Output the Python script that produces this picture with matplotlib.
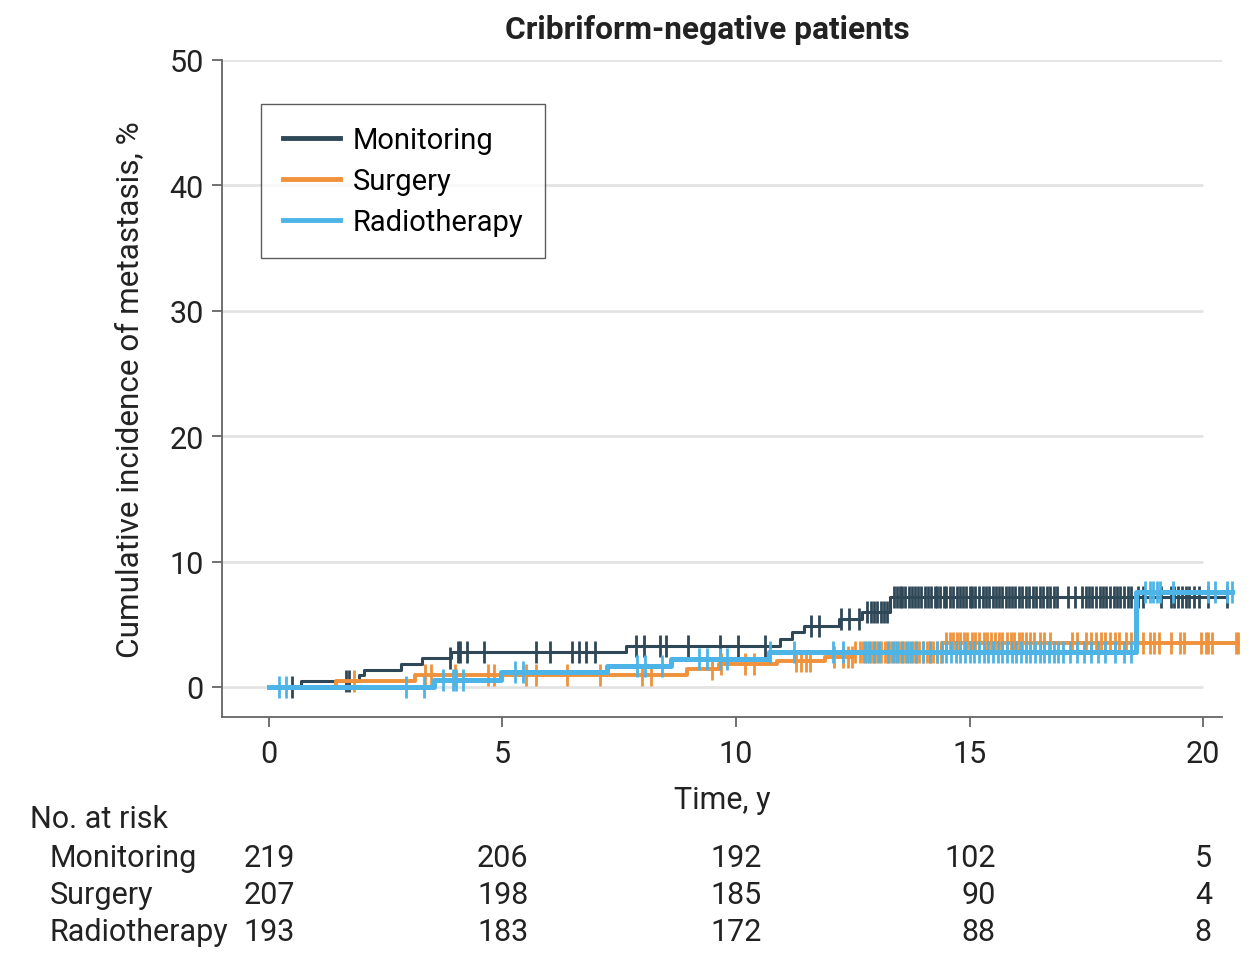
import numpy as np
import matplotlib
matplotlib.use('Agg')
import matplotlib.pyplot as plt
import matplotlib.transforms as mtransforms

plt.rcParams['font.family'] = ['Roboto', 'DejaVu Sans']

groups = ['Monitoring', 'Surgery', 'Radiotherapy']
colors = {'Monitoring': '#2f4858', 'Surgery': '#f0923b', 'Radiotherapy': '#4db4e8'}

# event times (years) and cumulative incidence after each event (%)
mon_times = [0.68, 1.93, 2.04, 2.82, 3.29, 3.89, 7.64, 10.95, 11.2, 11.45, 12.2, 12.7, 13.3]
mon_cum = [0.46, 0.92, 1.38, 1.84, 2.30, 2.76, 3.24, 3.83, 4.36, 4.84, 5.42, 5.95, 7.2]
sur_times = [1.43, 3.14, 8.96, 9.63, 10.88, 11.91, 12.5, 14.41]
sur_cum = [0.48, 0.96, 1.44, 1.83, 2.1, 2.4, 2.75, 3.5]
rad_times = [3.54, 4.96, 7.24, 8.6, 10.7, 18.57]
rad_cum = [0.55, 1.15, 1.7, 2.25, 2.8, 7.55]

# censoring times (years)
mon_cens = [0.49, 1.65, 1.72, 3.88, 4.04, 4.1, 4.24, 4.6, 5.71, 6.02, 6.5, 6.64, 6.8, 6.98,
            7.85, 8.03, 8.37, 8.51, 8.97, 9.65, 10.04, 10.61, 11.61, 11.77, 12.24, 12.41, 12.63,
            12.8, 12.88, 12.95, 13.02, 13.1, 13.17, 13.23, 13.38, 13.45, 13.5, 13.56, 13.62, 13.7,
            13.76, 13.83, 13.9, 13.96, 14.04, 14.1, 14.18, 14.25, 14.3, 14.37, 14.45, 14.5, 14.58,
            14.65, 14.72, 14.8, 14.86, 14.92, 15.0, 15.06, 15.12, 15.2, 15.28, 15.35, 15.42, 15.5,
            15.56, 15.62, 15.7, 15.78, 15.84, 15.9, 15.98, 16.05, 16.12, 16.2, 16.28, 16.35, 16.42,
            16.5, 16.58, 16.65, 16.72, 16.8, 16.87, 17.1, 17.25, 17.4, 17.48, 17.55, 17.62, 17.7,
            17.78, 17.85, 17.92, 18.0, 18.08, 18.15, 18.22, 18.3, 18.38, 18.45, 18.6, 18.72, 19.1,
            19.3, 19.38, 19.46, 19.55, 19.62, 19.7, 19.8, 19.9, 20.1, 20.5]
sur_cens = [1.83, 3.34, 3.48, 3.98, 4.69, 4.82, 5.5, 5.71, 6.39, 7.09, 7.99, 8.19, 9.49, 9.68,
            10.2, 10.38, 11.29, 11.39, 11.5, 11.59, 12.1, 12.3, 12.4, 12.48, 12.55, 12.65, 12.72,
            12.8, 12.88, 12.95, 13.02, 13.1, 13.18, 13.25, 13.32, 13.4, 13.48, 13.55, 13.62, 13.7,
            13.78, 13.85, 13.92, 14.0, 14.08, 14.15, 14.22, 14.3, 14.38, 14.5, 14.58, 14.65, 14.72,
            14.8, 14.88, 14.95, 15.05, 15.12, 15.2, 15.3, 15.38, 15.45, 15.55, 15.62, 15.7, 15.8,
            15.88, 15.95, 16.05, 16.12, 16.2, 16.3, 16.38, 16.5, 16.6, 16.72, 17.2, 17.3, 17.5,
            17.6, 17.7, 17.8, 17.9, 18.0, 18.1, 18.2, 18.35, 18.45, 18.55, 18.7, 18.85, 18.95,
            19.05, 19.3, 19.5, 19.58, 19.95, 20.05, 20.1, 20.18, 20.7, 20.75]
rad_cens = [0.22, 0.36, 2.93, 3.32, 3.74, 3.95, 4.0, 4.16, 5.28, 5.45, 7.89, 8.06, 8.42, 9.2,
            9.37, 9.65, 9.81, 10.72, 11.25, 12.08, 12.3, 12.75, 12.85, 12.95, 13.05, 13.25, 13.35,
            13.45, 13.55, 13.65, 13.75, 13.85, 14.0, 14.15, 14.3, 14.4, 14.5, 14.6, 14.7, 14.8,
            14.9, 15.0, 15.1, 15.2, 15.3, 15.4, 15.5, 15.6, 15.7, 15.8, 15.9, 16.0, 16.1, 16.2,
            16.3, 16.4, 16.5, 16.6, 16.7, 16.8, 16.9, 17.0, 17.15, 17.3, 17.45, 17.6, 17.75, 17.9,
            18.1, 18.3, 18.45, 18.75, 18.85, 18.92, 19.0, 19.08, 19.35, 20.1, 20.25, 20.5, 20.62]

risk_times = [0, 5, 10, 15, 20]
risk_mon = [219, 206, 192, 102, 5]
risk_sur = [207, 198, 185, 90, 4]
risk_rad = [193, 183, 172, 88, 8]

series = {
    'Monitoring': (mon_times, mon_cum, mon_cens, 2.2),
    'Surgery': (sur_times, sur_cum, sur_cens, 2.8),
    'Radiotherapy': (rad_times, rad_cum, rad_cens, 3.6),
}

fig = plt.figure(figsize=(12.56, 9.70), dpi=100)
ax = fig.add_axes([222 / 1256, 1 - 718 / 970, 1000 / 1256, 657 / 970])

for g in groups:
    t, c, cens, lw = series[g]
    t = np.asarray(t)
    c = np.asarray(c)
    tend = max(cens[-1], t[-1])
    xs = np.r_[0, t, tend]
    ys = np.r_[0, c, c[-1]]
    ax.step(xs, ys, where='post', color=colors[g], lw=lw, label=g, zorder=3, clip_on=False)
    idx = np.searchsorted(t, cens, side='right')
    yc = np.r_[0, c][idx]
    ax.plot(cens, yc, ls='none', marker='|', ms=16, mew=2.0, color=colors[g], zorder=3,
            clip_on=False)

ax.set_xlim(-1, 20.4)
ax.set_ylim(-2.4, 50)
for yv in [0, 10, 20, 30, 40]:
    ax.hlines(yv, -1, 20, color='#e3e3e3', lw=2, zorder=1)
ax.hlines(50, -1, 20.4, color='#e3e3e3', lw=2, zorder=1)

for s in ['top', 'right']:
    ax.spines[s].set_visible(False)
for s in ['left', 'bottom']:
    ax.spines[s].set_color('#666666')
    ax.spines[s].set_linewidth(1.3)

ax.set_xticks([0, 5, 10, 15, 20])
ax.set_yticks([0, 10, 20, 30, 40, 50])
ax.tick_params(axis='both', labelsize=22, colors='#222222', length=7, width=1.3)
ax.tick_params(axis='x', pad=9, color='#666666')
ax.tick_params(axis='y', pad=6, color='#666666')
ax.set_ylabel('Cumulative incidence of metastasis, %', fontsize=22.7, color='#222222', labelpad=18)
ax.set_xlabel('Time, y', fontsize=22, color='#222222', labelpad=12)

fig.text(707 / 1256, 1 - 30 / 970, 'Cribriform-negative patients', ha='center', va='center',
         fontsize=22.8, fontweight='bold', color='#222222')

leg = ax.legend(loc='upper left', bbox_to_anchor=(0.039, 0.933), borderaxespad=0,
                fontsize=21, frameon=True, fancybox=False, handlelength=1.95,
                handletextpad=0.45, labelspacing=0.45, borderpad=0.75)
leg.get_frame().set_edgecolor('#333333')
leg.get_frame().set_linewidth(1.0)
for h in leg.get_lines():
    h.set_linewidth(3.5)

# number at risk table
trans = mtransforms.blended_transform_factory(ax.transData, fig.transFigure)
fig.text(30 / 1256, 1 - 820 / 970, 'No. at risk', ha='left', va='center', fontsize=22, color='#222222')
rows = [('Monitoring', risk_mon), ('Surgery', risk_sur), ('Radiotherapy', risk_rad)]
row_y = [859, 896, 933]
for (name, vals), yp in zip(rows, row_y):
    fy = 1 - yp / 970
    fig.text(50 / 1256, fy, name, ha='left', va='center', fontsize=22, color='#222222')
    for tt, v in zip(risk_times, vals):
        if tt < 20:
            ax.text(tt + 0.56, fy, str(v), transform=trans, ha='right', va='center',
                    fontsize=22, color='#222222')
        else:
            ax.text(tt, fy, str(v), transform=trans, ha='center', va='center',
                    fontsize=22, color='#222222')

fig.savefig('out.png', dpi=100)
